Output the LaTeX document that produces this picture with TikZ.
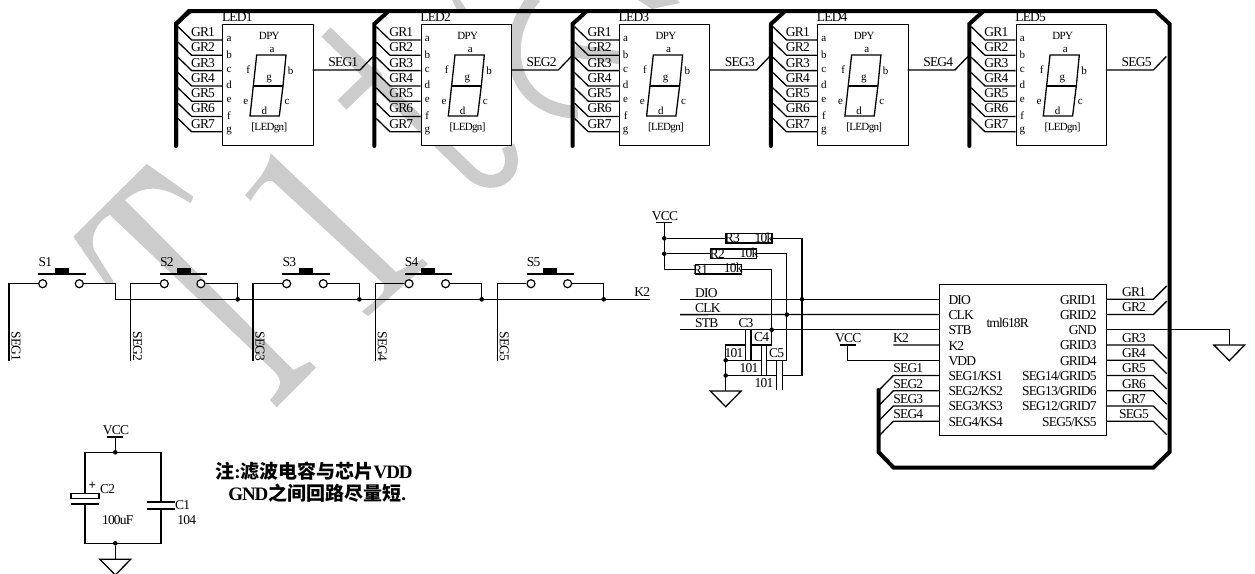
\documentclass[tikz,border=0pt]{standalone}
\usepackage{fontspec}
\setmainfont{Liberation Serif}[LetterSpace=-6]
\newfontfamily\cjk{Noto Sans CJK SC}
\usetikzlibrary{positioning, backgrounds}
\pgfdeclarelayer{myback}
\pgfsetlayers{myback,background,main}
\definecolor{markgray}{gray}{0.8}
\tikzset{wire/.style = {line width=1.3pt},
	bus/.style = {line width=4pt,line cap=round},
	plate/.style = {line width=1.3pt},
	chipbox/.style = {draw,fill=white,line width=0.9pt,rectangle,inner sep=0pt,anchor=north west},
	resbox/.style = {draw,line width=1.4pt,rectangle,inner sep=0pt,minimum width=46pt,minimum height=9.7pt},
	lbl/.style = {inner sep=0pt,font=\fontsize{13.5}{13.5}\selectfont},
	lblsm/.style = {inner sep=0pt,font=\fontsize{11}{11}\selectfont},
	dot/.style = {circle,fill=black,inner sep=0pt,minimum size=4.6pt},
	contact/.style = {circle,draw,fill=white,line width=1.2pt,inner sep=0pt,minimum size=8pt},
	wmfill/.style = {fill=markgray,draw=none},
	wmline/.style = {draw=markgray,line width=13pt}}
\NewDocumentCommand{\ledgroup}{m m}{%
	\begin{scope}[shift={(#2,0)}]
	\draw[bus] (-46.3,146) -- (-46.3,24) -- (-32,11);
	\node[chipbox,minimum width=90.4pt,minimum height=120.7pt] (led#1) at (0,24.3) {};
	\node[lbl] (led#1-name) at (15,17.3) {LED#1};
	\node[lblsm] (led#1-dpy) at (47,35.7) {DPY};
	\node[lblsm] (led#1-tag) at (47,128.3) {[LEDgn]};
	\foreach \pin [count=\i] in {a,b,c,d,e,f,g} {
		\pgfmathsetmacro{\ypin}{40+15.3*(\i-1)}
		\node[lblsm] (led#1-\pin) at (6.7,\ypin-1) {\pin};
		\coordinate (led#1-in\i) at (0,\ypin);
		\draw[wire] (led#1-in\i) -- (-30.6,\ypin) -- (-44.3,\ypin-13.3);
		\node[lbl] (led#1-gr\i) at (-19.3,\ypin-8) {GR\i};
	}
	\draw[wire] (34.4,55) -- (63.7,55) -- (60.7,86) -- (57,116) -- (27.7,116) -- (31,86) -- cycle;
	\draw[wire] (31,86) -- (60.7,86);
	\node[lblsm] (led#1-sa) at (49.7,50) {a};
	\node[lblsm] (led#1-sb) at (68.4,70.5) {b};
	\node[lblsm] (led#1-sc) at (64.7,102) {c};
	\node[lblsm] (led#1-sd) at (42,110.7) {d};
	\node[lblsm] (led#1-se) at (23.4,101.7) {e};
	\node[lblsm] (led#1-sf) at (26,70) {f};
	\node[lblsm] (led#1-sg) at (46.7,79) {g};
	\coordinate (led#1-out) at (90.4,70);
	\draw[wire] (led#1-out) -- (137.7,70) -- (150.7,56.5);
	\node[lbl] (led#1-seg) at (121,62.3) {SEG#1};
	\end{scope}
}
\NewDocumentCommand{\keyswitch}{m m m}{%
	\node[contact] (s#1a) at (#2,283.7) {};
	\node[contact] (s#1b) at (#2+36.6,283.7) {};
	\draw[line width=2.2pt] (#2-4.4,274) -- (#2+43,274);
	\fill (#2+12.3,268.3) rectangle (#2+26.3,273.5);
	\node[lbl] (s#1name) at (#2+2.6,261.7) {S#1};
	\coordinate (s#1seg) at (#2-33.8,360.7);
	\coordinate (s#1out) at (#3,283.7);
	\draw[wire] (s#1a) -- (s#1seg |- s#1a) -- (s#1seg);
	\node[lbl,rotate=-90] (s#1label) at (#2-26.7,346.3) {SEG#1};
}
\NewDocumentCommand{\gndsym}{m m m}{%
	\coordinate (#1) at (#2,#3);
	\draw[wire] (#1) ++(-15.4,0) -- ++(30.8,0) -- ++(-15.4,15.7) -- cycle;
}
\NewDocumentCommand{\vccsym}{m m m}{%
	\coordinate (#1) at (#2,#3);
	\draw[wire] (#1) ++(-8,0) -- ++(16,0);
	\node[lbl] (#1name) at (#2+0.7,#3-7) {VCC};
}
\NewDocumentCommand{\tcap}{m m m m}{%
	\coordinate (#1a) at (#2,#4);
	\coordinate (#1b) at (#3,#4);
	\draw[plate] (#2,#4-14.6) -- (#2,#4+14.6);
	\draw[plate] (#3,#4-14.6) -- (#3,#4+14.6);
}
\begin{document}
\begin{tikzpicture}[x=1pt,y=-1pt]
\useasboundingbox (0,0) rectangle (1255,573);
\begin{pgfonlayer}{myback}
\fill[wmfill] (73.3,236.7) -- (146.7,164) -- (193.3,196.7) -- (190.7,203.3) .. controls (170,190) and (148,180) .. (125,200) -- (293.3,370) -- (310,361.7) -- (316,367.7) -- (276.7,407.3) -- (270,400) .. controls (281,388) and (283,381) .. (275,372) -- (110,215) .. controls (95,222) and (90,240) .. (94,250) -- (115,284) -- (106,284) -- cycle;
\fill[wmfill] (270.7,153.3) -- (396,272) -- (422.7,259) -- (428,264) -- (368.3,316) -- (361.7,311.7) .. controls (378,298) and (386,294) .. (384,284) -- (273.3,181.7) .. controls (266,178) and (260,186) .. (250.7,200.7) -- (245,195) .. controls (258,180) and (268,170) .. cycle;
\draw[wmline] (326,32) -- (470,172) .. controls (490,192) and (522,178) .. (508,146);
\draw[wmline] (342,105) -- (378,70);
\draw[wmline] (535,-3) .. controls (520,15) and (510,40) .. (516,66) .. controls (522,95) and (548,112) .. (578,112);
\draw[wmline] (575,51) -- (622,58);
\fill[wmfill] (452,0) -- (460,0) -- (468,12) -- (458,12) -- cycle;
\fill[wmfill] (638,0) -- (652,9) -- (680,3) -- (677,0) -- cycle;
\end{pgfonlayer}
% bus
\draw[bus] (176,146) -- (176,24) -- (189,11) -- (1155.5,11) -- (1169.5,24) -- (1169.5,452) -- (1153.5,467.5) -- (893.5,467.5) -- (878.5,452) -- (878.5,390);
\foreach \n/\xpos in {1/222.3,2/420.6,3/618.9,4/817.2,5/1015.6} {
	\ledgroup{\n}{\xpos}
}
% keys
\keyswitch{1}{42.7}{115.7}
\keyswitch{2}{164.3}{237.7}
\keyswitch{3}{286.7}{359.4}
\keyswitch{4}{409}{481.7}
\keyswitch{5}{531}{603.7}
\coordinate (k2start) at (115.7,299.3);
\coordinate (k2end) at (650,299.3);
\draw[wire] (s1b) -- (s1out) -- (k2start) -- (k2end);
\foreach \n in {2,3,4,5} {
	\node[dot] (k\n) at (s\n out |- k2end) {};
	\draw[wire] (s\n b) -- (s\n out) -- (k\n);
}
\node[lbl] (k2name) at (642.3,292.3) {K2};
% chip
\node[chipbox,minimum width=166.7pt,minimum height=150.7pt] (tm) at (939.3,284.3) {};
\node[lbl] (tmname) at (1007.7,323.3) {tml618R};
\foreach \pname [count=\i] in {DIO,CLK,STB,K2,VDD,SEG1/KS1,SEG2/KS2,SEG3/KS3,SEG4/KS4} {
	\pgfmathsetmacro{\ypin}{299.3+15.25*(\i-1)}
	\coordinate (tm-l\i) at (939.3,\ypin);
	\node[lbl,anchor=west] (tm-ln\i) at (948.3,\ypin+0.5) {\pname};
}
\foreach \pname [count=\i] in {GRID1,GRID2,GND,GRID3,GRID4,SEG14/GRID5,SEG13/GRID6,SEG12/GRID7,SEG5/KS5} {
	\pgfmathsetmacro{\ypin}{299.3+15.25*(\i-1)}
	\coordinate (tm-r\i) at (1106,\ypin);
	\node[lbl,anchor=east] (tm-rn\i) at (1096.7,\ypin+0.5) {\pname};
}
\foreach \i/\txt in {1/GR1,2/GR2} {
	\draw[wire] (tm-r\i) -- ++(47.3,0) -- ++(13.4,-13.4);
	\path (tm-r\i) ++(28,-7) node[lbl] (gr-\i) {\txt};
}
\foreach \i/\txt in {4/GR3,5/GR4,6/GR5,7/GR6,8/GR7,9/SEG5} {
	\draw[wire] (tm-r\i) -- ++(47.3,0) -- ++(13.4,13.4);
	\path (tm-r\i) ++(28,-7) node[lbl] (gr-\i) {\txt};
}
\foreach \i/\txt in {6/SEG1,7/SEG2,8/SEG3,9/SEG4} {
	\draw[wire] (tm-l\i) -- ++(-46,0) -- ++(-14,14.3);
	\path (tm-l\i) ++(-31,-7) node[lbl] (sg-\i) {\txt};
}
\gndsym{gndr}{1229.3}{345}
\draw[wire] (tm-r3) -- (gndr |- tm-r3) -- (gndr);
\vccsym{vccb}{847.5}{345}
\draw[wire] (vccb) -- (vccb |- tm-l5) -- (tm-l5);
\coordinate (k2pin) at (893.3,345);
\draw[wire] (k2pin) -- (tm-l4);
\node[lbl] (k2b) at (901,337.7) {K2};
% signals
\coordinate (dio) at (680,299.3);
\coordinate (clk) at (680,314.6);
\coordinate (stb) at (680,329.8);
\draw[wire] (dio) -- (tm-l1);
\draw[wire] (clk) -- (tm-l2);
\draw[wire] (stb) -- (tm-l3);
\node[lbl,anchor=west] (dioname) at (695,292.7) {DIO};
\node[lbl,anchor=west] (clkname) at (695,307.7) {CLK};
\node[lbl,anchor=west] (stbname) at (695,323) {STB};
\vccsym{vcct}{664.3}{222.7}
\node[resbox] (r3) at (749,238.3) {};
\node[resbox] (r2) at (733.7,253.7) {};
\node[resbox] (r1) at (718.3,269.2) {};
\node[lbl] (r3name) at (732.3,238.3) {R3};
\node[lbl] (r2name) at (717.3,254.3) {R2};
\node[lbl] (r1name) at (700.7,269.7) {R1};
\node[lbl] (r3val) at (764,237.7) {10k};
\node[lbl] (r2val) at (749,252.7) {10k};
\node[lbl] (r1val) at (733.3,268.3) {10k};
\node[dot] (jr3) at (vcct |- r3) {};
\node[dot] (jr2) at (vcct |- r2) {};
\draw[wire] (vcct) -- (vcct |- r1) -- (r1.west);
\draw[wire] (jr3) -- (r3.west);
\draw[wire] (jr2) -- (r2.west);
\tcap{c3}{745.7}{751}{345}
\tcap{c4}{761.7}{766.3}{360.3}
\tcap{c5}{776.7}{782.3}{375.5}
\node[lbl] (c3name) at (746,322.7) {C3};
\node[lbl] (c4name) at (761.7,337.3) {C4};
\node[lbl] (c5name) at (776.7,352.7) {C5};
\node[lbl] (c3val) at (734,352.7) {101};
\node[lbl] (c4val) at (749,368.3) {101};
\node[lbl] (c5val) at (764,383.3) {101};
\node[dot] (jstb) at (771.7,329.8) {};
\node[dot] (jclk) at (786.8,314.6) {};
\node[dot] (jdio) at (802,299.3) {};
\draw[wire] (r1.east) -- (jstb |- r1) -- (jstb |- c3b) -- (c3b);
\draw[wire] (r2.east) -- (jclk |- r2) -- (jclk |- c4b) -- (c4b);
\draw[wire] (r3.east) -- (jdio |- r3) -- (jdio |- c5b) -- (c5b);
\gndsym{gndm}{725.7}{391}
\node[dot] (jc4) at (gndm |- c4a) {};
\node[dot] (jc5) at (gndm |- c5a) {};
\draw[wire] (c3a) -- (gndm |- c3a) -- (gndm);
\draw[wire] (jc4) -- (c4a);
\draw[wire] (jc5) -- (c5a);
% filter caps
\vccsym{vccf}{115.3}{437}
\node[dot] (jftop) at (115.3,452.3) {};
\node[dot] (jfbot) at (115.3,543.3) {};
\gndsym{gndf}{115.3}{559.3}
\draw[wire] (vccf) -- (jftop);
\draw[wire] (jfbot) -- (gndf);
\coordinate (c2top) at (85,493.3);
\coordinate (c2bot) at (85,504);
\coordinate (c1top) at (161,502);
\coordinate (c1bot) at (161,508.7);
\draw[wire] (c2top) -- (c2top |- jftop) -- (c1top |- jftop) -- (c1top);
\draw[wire] (c2bot) -- (c2bot |- jfbot) -- (c1bot |- jfbot) -- (c1bot);
\draw[wire] (71,493.3) rectangle (99,498.3);
\draw[line width=1.6pt] (71,504) -- (99,504);
\draw[line width=1.6pt] (147.3,502) -- (175,502);
\draw[line width=1.6pt] (147.3,508.7) -- (175,508.7);
\node[inner sep=0pt,font=\fontsize{13}{13}\selectfont\bfseries] (c2plus) at (92.3,486) {+};
\node[lbl] (c2name) at (107.7,489.3) {C2};
\node[lbl] (c2val) at (117.7,520) {100uF};
\node[lbl] (c1name) at (182.7,505) {C1};
\node[lbl] (c1val) at (186.7,520) {104};
\node[inner sep=0pt,font=\fontsize{19}{19}\selectfont\bfseries] (note1) at (314,471) {{\cjk 注}:{\cjk 滤波电容与芯片}VDD};
\node[inner sep=0pt,font=\fontsize{19}{19}\selectfont\bfseries] (note2) at (317.3,492.7) {GND{\cjk 之间回路尽量短}.};
\end{tikzpicture}
\end{document}
